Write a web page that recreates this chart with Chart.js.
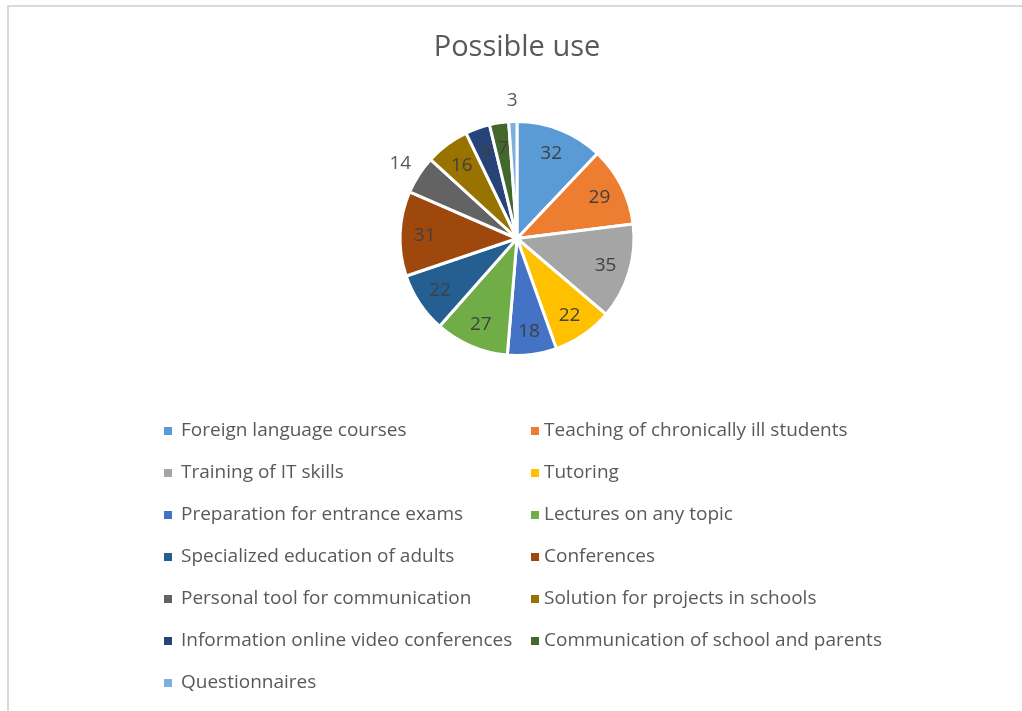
<!DOCTYPE html>
<html>
<head>
<meta charset="utf-8">
<script src="https://cdn.jsdelivr.net/npm/chart.js@4"></script>
<style>
  body { margin: 0; background: #fff; }
  #wrap { position: relative; width: 1022px; height: 711px; overflow: hidden; }
  #frame { position: absolute; left: 7px; top: 5px; width: 1100px; height: 800px;
           border-top: 2px solid #d9d9d9; border-left: 2px solid #d9d9d9; }
  canvas { position: absolute; left: 0; top: 0; }
</style>
</head>
<body>
<div id="wrap">
  <div id="frame"></div>
  <canvas id="chart" width="1022" height="711"></canvas>
</div>
<script>
const categories = [
  'Foreign language courses',
  'Teaching of chronically ill students',
  'Training of IT skills',
  'Tutoring',
  'Preparation for entrance exams',
  'Lectures on any topic',
  'Specialized education of adults',
  'Conferences',
  'Personal tool for communication',
  'Solution for projects in schools',
  'Information online video conferences',
  'Communication of school and parents',
  'Questionnaires'
];
const values = [32, 29, 35, 22, 18, 27, 22, 31, 14, 16, 9, 7, 3];
const colors = ['#5B9BD5', '#ED7D31', '#A5A5A5', '#FFC000', '#4472C4', '#70AD47',
                '#255E91', '#9E480E', '#636363', '#997300', '#264478', '#43682B', '#7CAFDD'];
// slices whose number sits outside the pie
const outsideLabels = [8, 12];

const FONT = '"Open Sans", "Liberation Sans", sans-serif';

// numbers on the slices
const sliceLabels = {
    id: 'sliceLabels',
    afterDatasetsDraw(chart) {
        const ctx = chart.ctx;
        const meta = chart.getDatasetMeta(0);
        ctx.save();
        ctx.font = '19px ' + FONT;
        ctx.textAlign = 'center';
        ctx.textBaseline = 'middle';
        meta.data.forEach((arc, i) => {
            const p = arc.getProps(['x', 'y', 'startAngle', 'endAngle', 'outerRadius'], true);
            const mid = (p.startAngle + p.endAngle) / 2;
            const out = outsideLabels.includes(i);
            const r = out ? p.outerRadius + 22 : p.outerRadius * 0.79;
            ctx.fillStyle = out ? '#595959' : '#404040';
            ctx.fillText(chart.data.datasets[0].data[i], p.x + Math.cos(mid) * r, p.y + Math.sin(mid) * r + 1);
        });
        ctx.restore();
    }
};

// title + two column legend
const textBits = {
    id: 'textBits',
    afterDraw(chart) {
        const ctx = chart.ctx;
        ctx.save();
        ctx.fillStyle = '#595959';
        ctx.textAlign = 'center';
        ctx.textBaseline = 'middle';
        ctx.font = '29px ' + FONT;
        ctx.fillText('Possible use', 517, 48);

        ctx.font = '19px ' + FONT;
        ctx.textAlign = 'left';
        const cols = [[164, 181], [531, 544]];
        chart.data.labels.forEach((lab, i) => {
            const col = cols[i % 2];
            const y = 431 + Math.floor(i / 2) * 42;
            ctx.fillStyle = chart.data.datasets[0].backgroundColor[i];
            ctx.fillRect(col[0], y - 4, 8, 8);
            ctx.fillStyle = '#595959';
            ctx.fillText(lab, col[1], y);
        });
        ctx.restore();
    }
};

new Chart(document.getElementById('chart'), {
    type: 'pie',
    data: {
        labels: categories,
        datasets: [{
            data: values,
            backgroundColor: colors,
            borderColor: '#ffffff',
            borderWidth: 3
        }]
    },
    options: {
        responsive: false,
        animation: false,
        layout: { padding: { top: 120, bottom: 354, left: 12, right: 0 } },
        plugins: {
            legend: { display: false },
            tooltip: { enabled: false }
        }
    },
    plugins: [sliceLabels, textBits]
});
</script>
</body>
</html>
